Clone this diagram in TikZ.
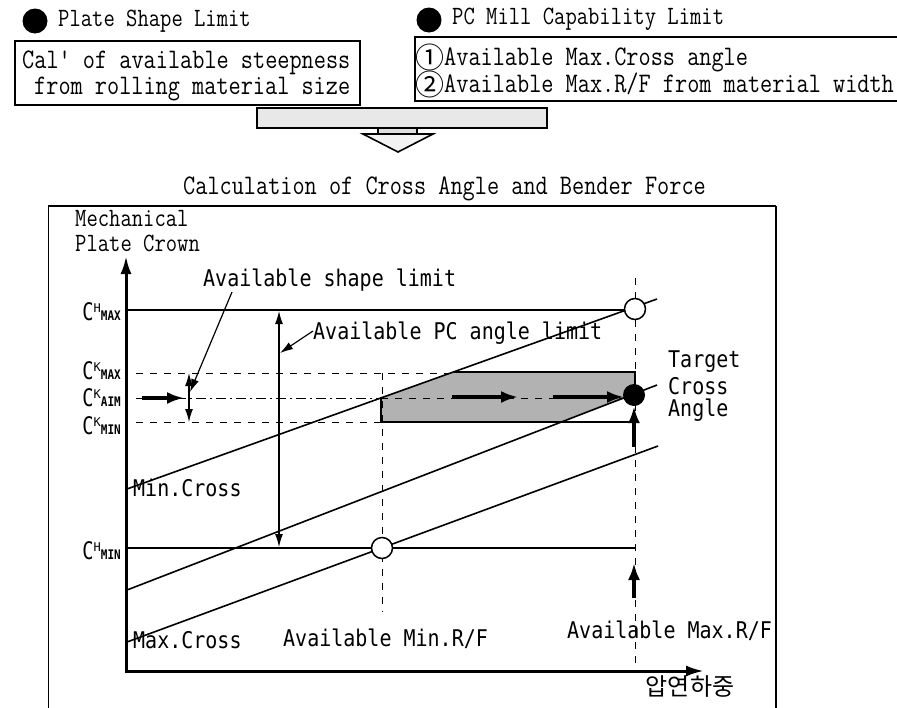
\documentclass[tikz,border=0pt]{standalone}
\usepackage{fontspec}
\usetikzlibrary{arrows.meta}
\newfontfamily\lblfont{DejaVu Sans Mono}
\newfontfamily\krfont{Noto Sans CJK KR}
\newcommand\smono{\ttfamily\addfontfeature{FakeBold=1.6}}
\newcommand\slab[1]{\scalebox{1}[1.15]{#1}}
\newcommand\tlab[1]{\scalebox{1}[1.2]{#1}}
\newcommand\circd[1]{\raisebox{-2.5pt}{\krfont\fontsize{29}{30}\selectfont #1}}
\newcommand\clab[2]{\scalebox{0.85}[1.1]{\fontsize{22}{24}\selectfont C}\raisebox{8pt}{\fontsize{12}{12}\selectfont #1}\scalebox{1}[1.2]{\fontsize{11}{12}\selectfont\bfseries #2}}
\tikzset{
  serifT/.style={font=\smono\fontsize{23.6}{27}\selectfont, inner sep=0pt, anchor=west},
  headT/.style={font=\smono\fontsize{22}{26}\selectfont, inner sep=0pt, anchor=west},
  lbl/.style={font=\lblfont\fontsize{20}{24}\selectfont, inner sep=0pt, anchor=west},
  clbl/.style={font=\lblfont, inner sep=0pt, anchor=east},
  bulletdot/.style={circle, fill=black, minimum size=25pt, inner sep=0pt},
  opencirc/.style={circle, draw=black, line width=1.5pt, fill=white, minimum size=21pt, inner sep=0pt},
  fullcirc/.style={circle, fill=black, minimum size=22pt, inner sep=0pt},
  plotline/.style={line width=1.6pt},
  axisline/.style={line width=3pt, -{Latex[length=18pt,width=11pt]}},
  thinarrow/.style={line width=1.2pt, -{Latex[length=13pt,width=8pt]}},
  thinboth/.style={line width=1.2pt, {Latex[length=13pt,width=8pt]}-{Latex[length=13pt,width=8pt]}},
  thickarrow/.style={line width=3.2pt, -{Latex[length=17pt,width=12pt]}},
  dashline/.style={line width=0.8pt, dash pattern=on 7pt off 7pt},
  dotline/.style={line width=0.7pt, dash pattern=on 10pt off 4pt on 2pt off 4pt},
  boxline/.style={line width=1.6pt},
}
\begin{document}
\begin{tikzpicture}[x=1pt,y=-1pt]
\useasboundingbox (0,0) rectangle (897,707);

% ---------- top section ----------
\node[bulletdot] (b1) at (35,21) {};
\node[headT] (h1) at (58,21) {\tlab{Plate Shape Limit}};
\node[bulletdot] (b2) at (429,20) {};
\node[headT] (h2) at (452,19) {\tlab{PC Mill Capability Limit}};

\draw[boxline] (15,41) rectangle (360,105);
\node[serifT] (t1) at (22,63) {\tlab{Cal' of available steepness}};
\node[serifT] (t2) at (34,89) {\tlab{from rolling material size}};

\draw[boxline] (415,37) rectangle (905,101);
\node[serifT] (t3) at (415,58) {\circd{①}\tlab{Available Max.Cross angle}};
\node[serifT] (t4) at (415,84) {\circd{②}\tlab{Available Max.R/F from material width}};

\draw[line width=1.6pt, fill=gray!18] (257,108) rectangle (547,128);
\draw[line width=1.6pt, fill=gray!25] (378,128) rectangle (417,134);
\draw[line width=1.6pt, fill=gray!10] (363,134) -- (433,134) -- (398,152) -- cycle;

\node[serifT] (title) at (183,189) {\tlab{Calculation of Cross Angle and Bender Force}};

% ---------- frame ----------
\draw[line width=1pt] (48,206) -- (48,712);
\draw[line width=1.5pt] (48,206) -- (776,206);
\draw[line width=1.2pt] (776,206) -- (776,712);

\node[headT] (m1) at (75,219) {\tlab{Mechanical}};
\node[headT] (m2) at (75,243) {\tlab{Plate Crown}};

% ---------- axes ----------
\coordinate (O) at (126,671);
\coordinate (Ytop) at (126,256);
\coordinate (Xend) at (704,671);
\draw[axisline] (O) -- (Ytop);
\draw[axisline] (124.5,671) -- (Xend);
\node[font=\krfont\fontsize{24}{28}\selectfont, inner sep=0pt] (xl) at (690,687) {압연하중};

% ---------- axis labels ----------
\node[clbl] (chmax) at (121,312) {\clab{H}{MAX}};
\node[clbl] (ckmax) at (121,371) {\clab{K}{MAX}};
\node[clbl] (ckaim) at (121,398) {\clab{K}{AIM}};
\node[clbl] (ckmin) at (121,426) {\clab{K}{MIN}};
\node[clbl] (chmin) at (121,551) {\clab{H}{MIN}};

% ---------- shaded target region ----------
\fill[gray!60] (381,397) -- (454,372) -- (635,372) -- (635,395) -- (561,422) -- (381,422) -- cycle;

% ---------- horizontal limit lines ----------
\coordinate (hmaxL) at (126,310);
\coordinate (hmaxR) at (635,310);
\coordinate (hminL) at (126,548);
\coordinate (hminR) at (635,548);
\draw[plotline] (hmaxL) -- (hmaxR);
\draw[plotline] (hminL) -- (hminR);

\draw[dashline] (136,373) -- (454,373);
\draw[dotline] (136,398) -- (381,398);
\draw[dashline] (381,398) -- (630,398);
\draw[dashline] (136,422) -- (381,422);

\draw[boxline] (454,372) -- (635,372) -- (635,388);
\draw[boxline] (381,397) -- (381,422) -- (635,422);

% ---------- vertical dashed ----------
\draw[dashline] (382,373) -- (382,612);
\draw[dashline] (635,278) -- (635,663);

% ---------- diagonal crown lines ----------
\draw[plotline] (127,489) -- (657,299);
\draw[plotline] (127,590) -- (657,385);
\draw[plotline] (127,642) -- (658,446);

% ---------- markers ----------
\node[opencirc] (cmax) at (635,309) {};
\node[opencirc] (cmin) at (382,548) {};
\node[fullcirc] (target) at (634,395) {};

% ---------- arrows ----------
\coordinate (pcT) at (279,311);
\coordinate (pcB) at (279,547);
\draw[thinboth] (pcT) -- (pcB);
\coordinate (pcL1) at (313,331);
\coordinate (pcL2) at (280,353);
\draw[thinarrow] (pcL1) -- (pcL2);

\coordinate (shL1) at (232,292);
\coordinate (shL2) at (190,392);
\draw[thinarrow] (shL1) -- (shL2);
\draw[thinboth] (189,373) -- (189,422);
\draw[thickarrow] (142,398) -- (184,398);

\draw[thickarrow] (452,397) -- (518,397);
\draw[thickarrow] (553,397) -- (624,397);

\coordinate (tgA) at (634,447);
\draw[thickarrow] (tgA) -- (target.south);
\draw[thickarrow] (634,598) -- (634,563);

% ---------- labels ----------
\node[lbl] (l1) at (203,280) {\slab{Available shape limit}};
\node[lbl] (l2) at (313,333) {\slab{Available PC angle limit}};
\node[lbl] (l3) at (668,362) {\slab{Target}};
\node[lbl] (l4) at (668,386) {\slab{Cross}};
\node[lbl] (l5) at (668,410) {\slab{Angle}};
\node[lbl] (l6) at (133,488) {\slab{Min.Cross}};
\node[lbl] (l7) at (133,640) {\slab{Max.Cross}};
\node[lbl] (l8) at (283,639) {\slab{Available Min.R/F}};
\node[lbl] (l9) at (567,631) {\slab{Available Max.R/F}};
\end{tikzpicture}
\end{document}
